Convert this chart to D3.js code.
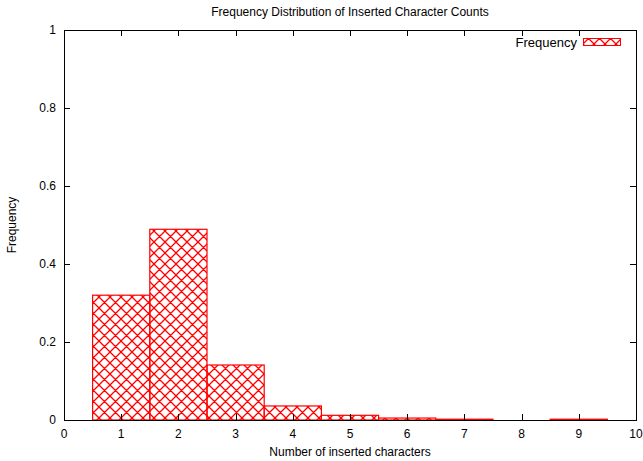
<!DOCTYPE html>
<html>
<head>
<meta charset="utf-8">
<script src="https://cdn.jsdelivr.net/npm/d3@7"></script>
<style>
  body { margin: 0; background: #fff; }
  text { font-family: "Liberation Sans", Arial, sans-serif; font-size: 12px; fill: #000; }
</style>
</head>
<body>
<div id="chart"></div>
<script>
// histogram of inserted character counts
var counts = [1, 2, 3, 4, 5, 6, 7, 8, 9];
var freq = [0.32, 0.489, 0.141, 0.036, 0.012, 0.005, 0.002, 0, 0.002];
var x_ticks = [0, 1, 2, 3, 4, 5, 6, 7, 8, 9, 10];
var y_ticks = [0, 0.2, 0.4, 0.6, 0.8, 1];

var width = 643, height = 461;
var m_left = 64, m_right = 636, m_top = 30, m_bottom = 420;
var tick_len = 6;

var svg = d3.select("#chart").append("svg")
  .attr("width", width)
  .attr("height", height);

var defs = svg.append("defs");
var pat = defs.append("pattern")
  .attr("id", "hatch")
  .attr("patternUnits", "userSpaceOnUse")
  .attr("width", 11)
  .attr("height", 11);
pat.append("path")
  .attr("d", "M0,0L11,11M11,0L0,11M-1,10L1,12M10,-1L12,1M-1,1L1,-1M10,12L12,10")
  .attr("stroke", "#ff0000")
  .attr("stroke-width", 1.3)
  .attr("fill", "none");

var x = d3.scaleLinear().domain([0, 10]).range([m_left, m_right]);
var y = d3.scaleLinear().domain([0, 1]).range([m_bottom, m_top]);

// bars
svg.append("g").selectAll("rect")
  .data(counts)
  .enter().append("rect")
    .attr("x", function(d) { return x(d - 0.5); })
    .attr("y", function(d, i) { return y(freq[i]); })
    .attr("width", function(d) { return x(d + 0.5) - x(d - 0.5); })
    .attr("height", function(d, i) { return y(0) - y(freq[i]); })
    .attr("fill", "url(#hatch)")
    .attr("stroke", "#ff0000")
    .attr("stroke-width", 1.2);

// ticks, all sides pointing in
var g = svg.append("g").attr("stroke", "#000").attr("stroke-width", 1);
x_ticks.forEach(function(t) {
  var px = Math.round(x(t)) + 0.5;
  g.append("line").attr("x1", px).attr("x2", px).attr("y1", m_bottom).attr("y2", m_bottom - tick_len);
  g.append("line").attr("x1", px).attr("x2", px).attr("y1", m_top).attr("y2", m_top + tick_len);
});
y_ticks.forEach(function(t) {
  var py = Math.round(y(t)) + 0.5;
  g.append("line").attr("x1", m_left).attr("x2", m_left + tick_len).attr("y1", py).attr("y2", py);
  g.append("line").attr("x1", m_right).attr("x2", m_right - tick_len).attr("y1", py).attr("y2", py);
});

// frame
svg.append("rect")
  .attr("x", m_left + 0.5)
  .attr("y", m_top + 0.5)
  .attr("width", m_right - m_left)
  .attr("height", m_bottom - m_top)
  .attr("fill", "none")
  .attr("stroke", "#000")
  .attr("stroke-width", 1);

// tick labels
svg.append("g").selectAll("text")
  .data(x_ticks)
  .enter().append("text")
    .attr("x", function(d) { return x(d); })
    .attr("y", m_bottom + 18)
    .attr("text-anchor", "middle")
    .text(function(d) { return d; });

svg.append("g").selectAll("text")
  .data(y_ticks)
  .enter().append("text")
    .attr("x", m_left - 8)
    .attr("y", function(d) { return y(d) + 4; })
    .attr("text-anchor", "end")
    .text(function(d) { return d; });

// titles
svg.append("text")
  .attr("x", (m_left + m_right) / 2)
  .attr("y", 16)
  .attr("text-anchor", "middle")
  .text("Frequency Distribution of Inserted Character Counts");

svg.append("text")
  .attr("x", (m_left + m_right) / 2)
  .attr("y", 456)
  .attr("text-anchor", "middle")
  .text("Number of inserted characters");

svg.append("text")
  .attr("transform", "translate(16," + ((m_top + m_bottom) / 2) + ") rotate(-90)")
  .attr("text-anchor", "middle")
  .text("Frequency");

// legend
svg.append("text")
  .attr("x", 577)
  .attr("y", 47)
  .attr("text-anchor", "end")
  .style("font-size", "13px")
  .text("Frequency");
svg.append("rect")
  .attr("x", 583.5)
  .attr("y", 38.5)
  .attr("width", 37)
  .attr("height", 7)
  .attr("fill", "url(#hatch)")
  .attr("stroke", "#ff0000")
  .attr("stroke-width", 1);
</script>
</body>
</html>
